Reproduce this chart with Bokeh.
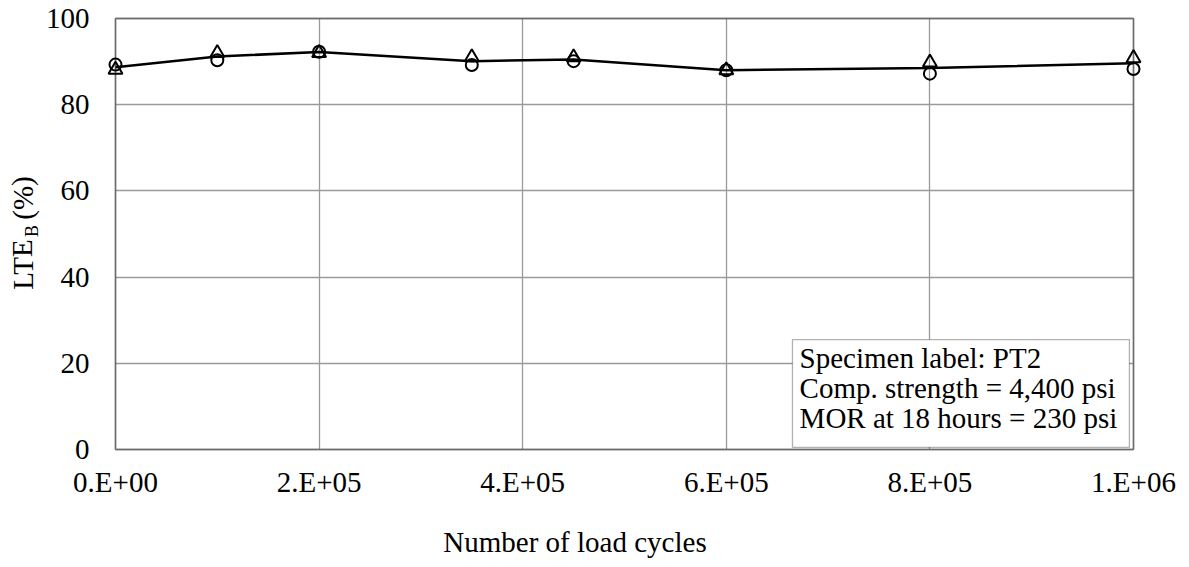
from bokeh.plotting import figure
from bokeh.models import Range1d, FixedTicker, Label, BoxAnnotation
from bokeh.layouts import row, column
from bokeh.embed import file_html
from bokeh.resources import INLINE

# ---- data ----
cycles = [0, 100000, 200000, 350000, 450000, 600000, 800000, 1000000]
lte_circle = [89.3, 90.3, 92.3, 89.2, 90.1, 88.0, 87.2, 88.3]
lte_triangle = [88.1, 92.0, 92.0, 91.0, 91.0, 88.0, 89.8, 90.8]
lte_mean = [88.7, 91.2, 92.2, 90.1, 90.5, 88.0, 88.5, 89.6]

x_ticks = [0, 200000, 400000, 600000, 800000, 1000000]
x_tick_labels = ["0.E+00", "2.E+05", "4.E+05", "6.E+05", "8.E+05", "1.E+06"]
y_ticks = [0, 20, 40, 60, 80, 100]

info_lines = ["Specimen label: PT2", "Comp. strength = 4,400 psi", "MOR at 18 hours = 230 psi"]
x_title = "Number of load cycles"

FONT = "Liberation Serif"
X0, X1, Y0, Y1 = 0, 1000000, 0, 100
PADX, PADY = 14735, 0.928   # small room so edge markers are not clipped

H = 520
p = figure(width=1147, height=H, output_backend="svg", toolbar_location=None,
           x_range=Range1d(X0 - PADX, X1 + PADX), y_range=Range1d(Y0 - PADY, Y1 + PADY),
           min_border_left=58, min_border_right=41, min_border_top=14, min_border_bottom=67)
p.background_fill_color = "white"
p.border_fill_color = "white"
p.outline_line_color = None

for ax in (p.xaxis[0], p.yaxis[0]):
    ax.axis_line_color = None
    ax.major_tick_in = 0
    ax.major_tick_out = 0
    ax.minor_tick_in = 0
    ax.minor_tick_out = 0
    ax.major_label_text_font = FONT
    ax.major_label_text_font_size = "29px"
    ax.major_label_text_color = "black"

p.xaxis.ticker = FixedTicker(ticks=x_ticks)
p.xaxis.major_label_overrides = {t: l for t, l in zip(x_ticks, x_tick_labels)}
p.xaxis.major_label_standoff = 12
p.yaxis.ticker = FixedTicker(ticks=y_ticks)
p.yaxis.major_label_standoff = 11

GRID_COLOR = "#9a9a9a"
p.xgrid.ticker = FixedTicker(ticks=x_ticks)
p.ygrid.ticker = FixedTicker(ticks=y_ticks)
p.xgrid.bounds = (X0, X1)
p.ygrid.bounds = (Y0, Y1)
try:
    p.xgrid.cross_bounds = (Y0, Y1)
    p.ygrid.cross_bounds = (X0, X1)
    p.grid.grid_line_color = GRID_COLOR
    p.grid.grid_line_width = 1.3
except AttributeError:
    p.grid.grid_line_color = None
    p.segment(x0=x_ticks, y0=[Y0] * len(x_ticks), x1=x_ticks, y1=[Y1] * len(x_ticks),
              line_color=GRID_COLOR, line_width=1.3, level="underlay")
    p.segment(x0=[X0] * len(y_ticks), y0=y_ticks, x1=[X1] * len(y_ticks), y1=y_ticks,
              line_color=GRID_COLOR, line_width=1.3, level="underlay")

# plot-area frame
p.add_layout(BoxAnnotation(left=X0, right=X1, bottom=Y0, top=Y1, fill_alpha=0,
                           line_color="black", line_width=2, level="underlay"))

# series
p.line(cycles, lte_mean, line_color="black", line_width=2.5)
p.scatter(cycles, lte_triangle, marker="triangle", size=14, fill_color=None,
          line_color="black", line_width=2)
p.scatter(cycles, lte_circle, marker="circle", size=12, fill_color=None,
          line_color="black", line_width=2)

# info box
p.add_layout(BoxAnnotation(left=665000, right=996000, bottom=0.5, top=25.5,
                           fill_color="white", fill_alpha=1.0,
                           line_color="black", line_width=1.3))
for i, t in enumerate(info_lines):
    p.add_layout(Label(x=672000, y=21.2 - i * 7.0, text=t, text_font=FONT,
                       text_font_size="29px", text_color="black",
                       text_baseline="alphabetic", text_align="left"))

# y-axis title strip (LTE with subscript B); shares the main y scale
fy = figure(width=42, height=H, output_backend="svg", toolbar_location=None,
            x_range=Range1d(0, 42), y_range=p.y_range,
            x_axis_type=None, y_axis_type=None, min_border=0, title=None)
fy.outline_line_color = None
fy.background_fill_color = "white"
fy.border_fill_color = "white"
for txt, cx, cy, fs in [("LTE", 22, 42.9, "29px"),
                        ("B", 31, 50.7, "18px"),
                        ("(%)", 22, 58.35, "29px")]:
    fy.add_layout(Label(x=cx, y=cy, text=txt, angle=1.5708, text_font=FONT,
                        text_font_size=fs, text_color="black",
                        text_align="center", text_baseline="middle"))

# x-axis title strip
HX = 567 - H
fx = figure(width=1189, height=HX, output_backend="svg", toolbar_location=None,
            x_range=Range1d(0, 1189), y_range=Range1d(0, HX),
            x_axis_type=None, y_axis_type=None, min_border=0, title=None)
fx.outline_line_color = None
fx.background_fill_color = "white"
fx.border_fill_color = "white"
fx.add_layout(Label(x=574.5, y=26, text=x_title, text_font=FONT,
                    text_font_size="29px", text_color="black",
                    text_align="center", text_baseline="alphabetic"))

layout = column(row(fy, p), fx)
open("out.html", "w").write(file_html(layout, INLINE))
